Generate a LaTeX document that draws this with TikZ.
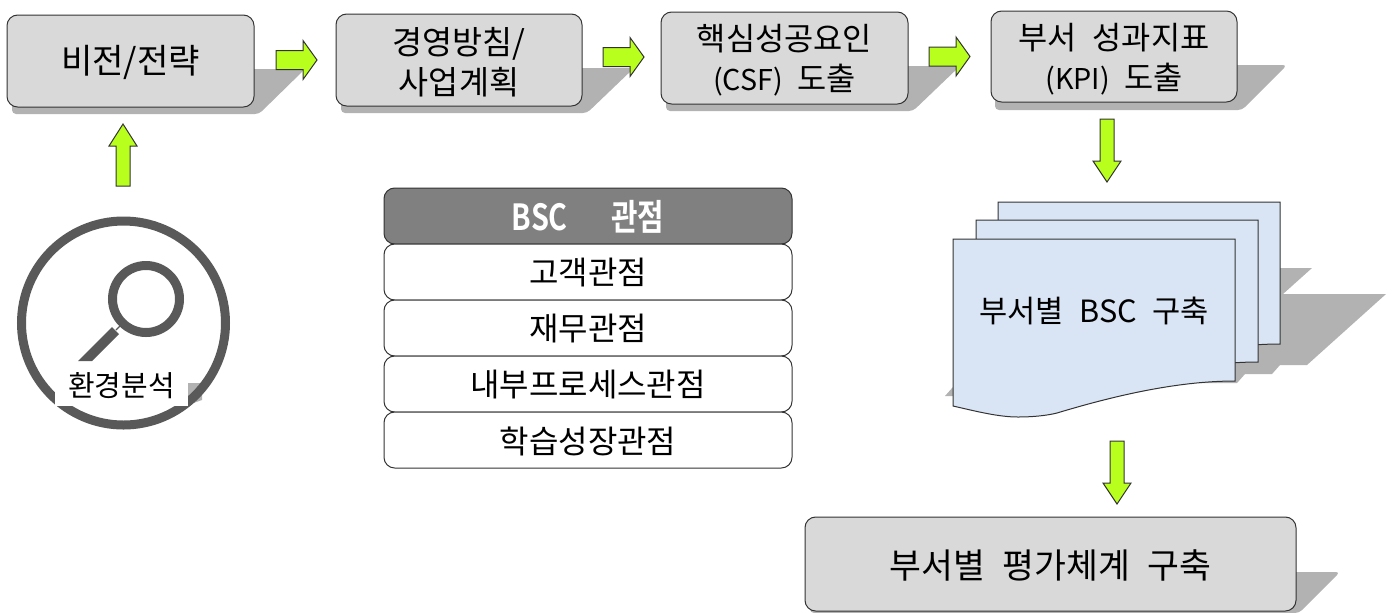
\documentclass[tikz,border=0pt]{standalone}
\usepackage{fontspec}
\setmainfont{Noto Sans CJK KR}
\newfontfamily\headfont[FakeStretch=0.8]{Noto Sans CJK KR Bold}
\definecolor{shadowgray}{HTML}{B2B2B2}
\definecolor{boxgray}{HTML}{D9D9D9}
\definecolor{lime}{HTML}{B9FF1D}
\definecolor{sheet}{HTML}{D9E5F4}
\definecolor{ring}{HTML}{595959}
\definecolor{edge}{HTML}{333333}
\newcommand{\narrowlatin}[1]{{\fontsize{21.5}{30}\selectfont #1}}
\newcommand{\lowered}[2]{\raisebox{-#1}[\height][\depth]{#2}}
\tikzset{
  procbox/.style={draw=edge,line width=0.75pt,fill=boxgray,rounded corners=8pt,inner sep=0pt,align=center,font=\fontsize{23.8}{30}\selectfont},
  rowbox/.style={draw=edge,line width=0.75pt,fill=white,rounded corners=8pt,inner sep=0pt,minimum width=306pt,minimum height=42pt,font=\fontsize{24}{30}\selectfont},
  headbox/.style={rowbox,fill=gray!100!white,text=white,font=\headfont\fontsize{27}{30}\selectfont},
  shade/.style={fill=shadowgray,draw=none,rounded corners=3pt},
  blockarrow/.style={draw=edge,line width=0.75pt,fill=lime,line join=miter},
  sheetshape/.style={draw=edge,line width=0.75pt,fill=sheet},
  plainlabel/.style={inner sep=0pt,font=\fontsize{23}{30}\selectfont}
}
\newcommand{\rightblock}[2]{% left x, centre y
  \draw[blockarrow,shift={(#1,#2)}] (0,-9.5) -- (27,-9.5) -- (27,-19.5) -- (41,0) -- (27,19.5) -- (27,9.5) -- (0,9.5) -- cycle;}
\newcommand{\downblock}[2]{% centre x, top y
  \draw[blockarrow,shift={(#1,#2)}] (-7,0) -- (7,0) -- (7,42) -- (14,42) -- (0,63) -- (-14,42) -- (-7,42) -- cycle;}
\newcommand{\docpath}{(953,239) -- (1235,239) -- (1235,381) .. controls (1175,381) and (1110,397) .. (1057,413) .. controls (1045,416) and (1030,417) .. (1018,417) .. controls (998,417) and (975,411) .. (953,406) -- cycle}
\begin{document}
\begin{tikzpicture}[x=0.75pt,y=-0.75pt]
\useasboundingbox (0,0) rectangle (1394,612);
% shadows
\fill[shade] (200,69) -- (305,69) -- (259,114) -- (12,114) -- (12,80) -- cycle;
\fill[shade] (530,68) -- (634,68) -- (587,113) -- (341,113) -- (341,80) -- cycle;
\fill[shade] (855,66) -- (960,66) -- (913,111) -- (666,111) -- (666,80) -- cycle;
\fill[shade] (1185,65) -- (1287,65) -- (1242,110) -- (995,110) -- (995,80) -- cycle;
\fill[shade] (1240,572) -- (1340,572) -- (1299,613) -- (810,613) -- (810,590) -- cycle;
\fill[shadowgray] (1270,268) -- (1312,268) -- (1283,294) -- (1386,294) -- (1307,365) -- (1280,365) -- (1272,374) -- (1245,374) -- (1237,383) -- (1200,383) -- (1200,268) -- cycle;
\fill[shadowgray] (945,396) -- (953,387) -- (975,396) -- cycle;
% process boxes
\node[procbox,minimum width=185.25pt,minimum height=69pt,font=\fontsize{25.6}{30}\selectfont] (vision) at (130.5,61) {\lowered{1pt}{비전/전략}};
\node[procbox,minimum width=184.5pt,minimum height=69pt,font=\fontsize{24.5}{30}\selectfont] (policy) at (459,60) {\lowered{1.5pt}{경영방침/}\\\lowered{1.5pt}{사업계획}};
\node[procbox,minimum width=185.25pt,minimum height=69pt] (csf) at (784.5,58) {\lowered{2pt}{핵심성공요인}\\\lowered{2pt}{\narrowlatin{(CSF)}\hspace{0.45em}도출}};
\node[procbox,minimum width=184.5pt,minimum height=68.25pt] (kpi) at (1114,56.5) {\lowered{2pt}{부서\hspace{0.5em}성과지표}\\\lowered{2pt}{\narrowlatin{(KPI)}\hspace{0.45em}도출}};
\node[procbox,minimum width=368.25pt,minimum height=70.5pt,font=\fontsize{26}{30}\selectfont] (evalbox) at (1050.5,564) {\lowered{0.75pt}{부서별\hspace{0.5em}평가체계\hspace{0.5em}구축}};
% block arrows
\rightblock{276}{60}
\rightblock{603}{57}
\rightblock{929}{56.5}
\draw[blockarrow] (116,186) -- (130,186) -- (130,146) -- (137,146) -- (123,124) -- (109,146) -- (116,146) -- cycle;
\downblock{1107}{119}
\downblock{1117}{441}
% documents
\begin{scope}[shift={(45,-37)}]
  \draw[sheetshape] \docpath;
\end{scope}
\begin{scope}[shift={(23,-19)}]
  \draw[sheetshape] \docpath;
\end{scope}
\draw[sheetshape] \docpath;
\node[plainlabel] (dept) at (1094,310.5) {부서별\hspace{0.5em}BSC\hspace{0.5em}구축};
% BSC table
\node[headbox] (bschead) at (588,216) {\lowered{0.75pt}{BSC\hspace{1.2em}관점}};
\node[rowbox] (r1) at (588,272) {\lowered{0.75pt}{고객관점}};
\node[rowbox] (r2) at (588,328) {\lowered{0.75pt}{재무관점}};
\node[rowbox] (r3) at (588,384) {\lowered{0.75pt}{내부프로세스관점}};
\node[rowbox] (r4) at (588,440) {\lowered{0.75pt}{학습성장관점}};
% environment scan
\fill[shadowgray] (188,383) -- (202,383) -- (202,400) -- (188,405) -- cycle;
\draw[ring,line width=6.75pt] (123.5,323) circle [radius=102];
\draw[ring,line width=6.75pt] (146,299) circle [radius=33.5];
\fill[ring] (112,327) -- (119,334) -- (92,361) -- (78,361) -- cycle;
\draw[ring,line width=1pt] (116,330) -- (124,322);
\node[fill=white,inner sep=0pt,minimum width=99.75pt,minimum height=33pt,font=\fontsize{21.7}{26}\selectfont] (scan) at (121.5,383.5) {\lowered{1.5pt}{환경분석}};
\end{tikzpicture}
\end{document}
